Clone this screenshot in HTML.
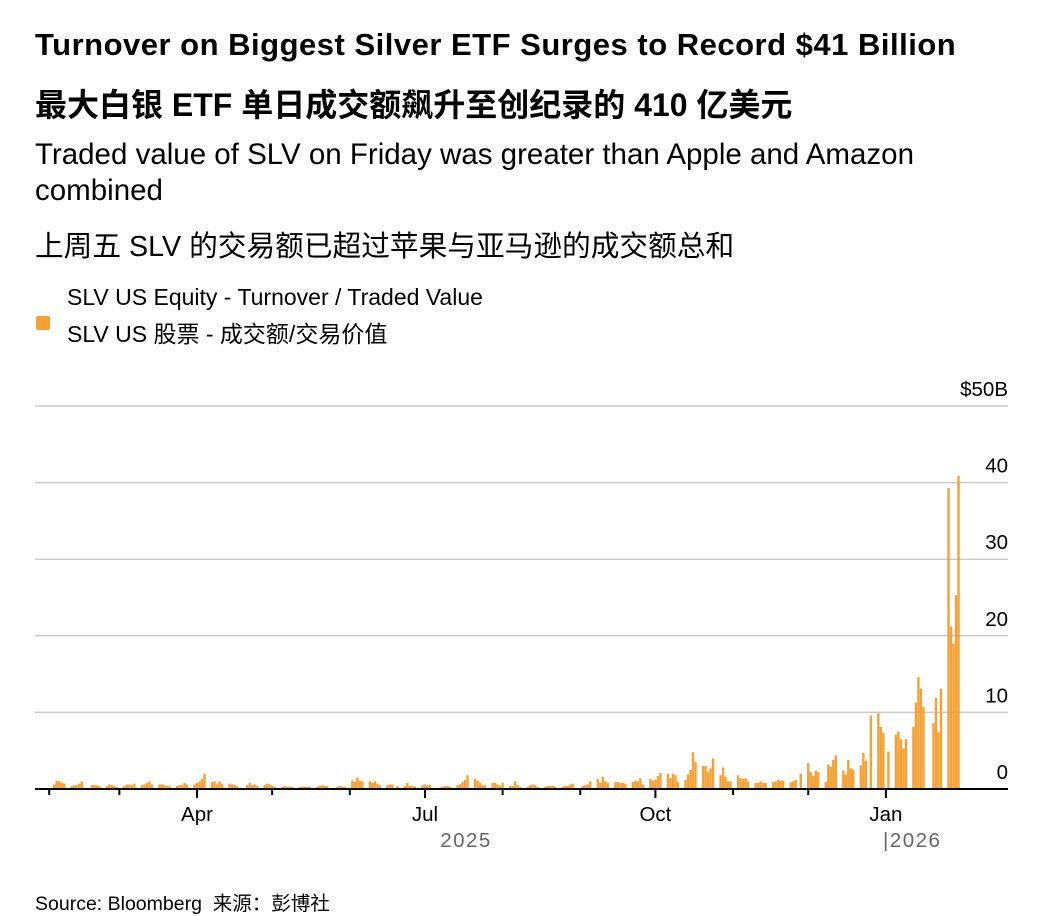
<!DOCTYPE html>
<html><head><meta charset="utf-8">
<style>
body{margin:0;background:#fff;width:1046px;height:916px;overflow:hidden;position:relative;font-family:"Liberation Sans","Noto Sans CJK SC",sans-serif;color:#000}
.t{position:absolute;left:35px;white-space:nowrap}
</style></head><body>
<div class="t" style="top:27px;font-size:31px;font-weight:bold;letter-spacing:0.5px">Turnover on Biggest Silver ETF Surges to Record $41 Billion</div>
<div class="t" style="top:80px;font-size:32px;font-weight:bold">最大白银 ETF 单日成交额飙升至创纪录的 410 亿美元</div>
<div class="t" style="top:137px;font-size:29.5px;line-height:36px;white-space:normal;width:960px">Traded value of SLV on Friday was greater than Apple and Amazon combined</div>
<div class="t" style="top:224px;font-size:28.7px">上周五 SLV 的交易额已超过苹果与亚马逊的成交额总和</div>
<div style="position:absolute;left:36px;top:316px;width:14px;height:14px;background:#f6a135;border-radius:2px"></div>
<div class="t" style="left:67px;top:279px;font-size:23px;line-height:37px">SLV US Equity - Turnover / Traded Value<br>SLV US 股票 - 成交额/交易价值</div>
<svg id="chart" width="1046" height="916" style="position:absolute;left:0;top:0"></svg>
<div class="t" style="top:887px;font-size:19.5px">Source: Bloomberg&nbsp; 来源：彭博社</div>
<script>
const weekStarts=["2025-02-03"];
const values=[
0.6,1.1,1.0,0.8,0.7, 0.4,0.5,0.5,0.7,1.0, 0.5,0.5,0.5,0.4, 0.4,0.6,0.5,0.4,0.3,
0.4,0.6,0.6,0.5,0.7, 0.5,0.6,0.8,1.0,0.6, 0.6,0.6,0.5,0.4,0.4, 0.4,0.5,0.5,0.8,0.6,
0.6,0.8,1.0,1.3,2.0, 0.9,1.0,0.6,1.0,0.7, 0.7,0.6,0.5,0.4, 0.5,0.8,0.5,0.6,0.4, 0.5,0.7,0.6,0.4,0.3,
0.3,0.4,0.3,0.3,0.3, 0.3,0.3,0.3,0.3,0.3, 0.3,0.4,0.5,0.4,0.4, 0.3,0.4,0.3,0.3,
1.1,0.9,1.5,1.1,1.0, 1.0,0.8,1.0,0.7,0.5, 0.5,0.6,0.6,0.4, 0.4,0.8,0.4,0.4,0.3,
0.5,0.6,0.5,0.5, 0.2,0.3,0.4,0.4,0.3, 0.5,0.6,0.9,1.2,1.8, 1.3,1.1,0.8,0.5,0.5, 0.8,0.8,0.6,0.4,0.8,
0.4,0.4,1.0,0.5,0.3, 0.3,0.5,0.6,0.5,0.3, 0.3,0.4,0.4,0.4,0.3, 0.3,0.4,0.4,0.6,0.7,
0.4,0.5,0.6,1.0, 1.3,0.8,1.6,1.0,0.8, 0.9,0.9,0.8,0.8,0.7, 0.9,1.1,1.0,1.4,0.6,
1.3,1.1,1.2,1.7,2.1, 2.0,1.4,2.0,1.8,0.9, 1.2,1.9,2.5,4.8,3.5, 3.0,3.0,2.2,2.7,4.0, 1.8,2.8,1.6,1.0,1.0,
1.8,1.4,1.3,1.4,1.0, 0.8,0.8,1.0,0.8,0.8, 0.9,1.0,1.2,1.1,1.1, 0.9,1.0,1.2,2.0,
3.4,2.2,1.7,2.4,2.2, 0.9,3.2,2.9,3.8,4.4, 2.4,1.9,3.8,2.7,2.5, 3.1,4.7,3.7,9.6,
9.9,8.1,7.3,4.9, 7.1,7.5,6.5,5.3,6.5, 8.1,11.3,14.6,13.1,10.7, 8.6,11.9,7.4,13.1,
39.3,21.2,19.0,25.3,40.9];
const holidays=["2025-02-17","2025-04-18","2025-05-26","2025-06-19","2025-07-04","2025-09-01","2025-11-27","2025-12-25","2026-01-01","2026-01-19"];
const yTicks=[0,10,20,30,40,50];
const yTickLabels=["0","10","20","30","40","$50B"];
const monthTicks=["2025-02-01","2025-03-01","2025-04-01","2025-05-01","2025-06-01","2025-07-01","2025-08-01","2025-09-01","2025-10-01","2025-11-01","2025-12-01","2026-01-01"];
const monthLabels={"2025-04-01":"Apr","2025-07-01":"Jul","2025-10-01":"Oct","2026-01-01":"Jan"};

const svg=document.getElementById('chart');const NS='http://www.w3.org/2000/svg';
const DAY=86400000,D0=Date.UTC(2025,3,1);
function x(ds){const t=Date.parse(ds+"T00:00:00Z");return 197+(t-D0)/DAY*2.505;}
function y(v){return 789-v*7.66;}
function mk(tag,a,p){const e=document.createElementNS(NS,tag);for(const k in a)e.setAttribute(k,a[k]);(p||svg).appendChild(e);return e;}
yTicks.forEach((v,i)=>{
 const l=mk('line',{x1:35,x2:1008,y1:y(v),y2:y(v),stroke:v===0?'#000':'#ccc','stroke-width':v===0?2:1.5});
 
 
 const t=mk('text',{x:1008,y:y(v)-10,'text-anchor':'end','font-size':20.5,fill:'#000'});
 t.textContent=yTickLabels[i];
 
 
});
const days=[];let t=Date.parse(weekStarts[0]+"T00:00:00Z");
while(days.length<values.length){const d=new Date(t);const wd=d.getUTCDay();const s=d.toISOString().slice(0,10);if(wd>0&&wd<6&&!holidays.includes(s))days.push(s);t+=DAY;}
values.forEach((v,i)=>{
 const r=mk('rect',{x:x(days[i])-1.2,y:y(v),width:2.4,height:789-y(v),fill:'#f6a135'});
 
 
});
mk('line',{x1:35,x2:1008,y1:789,y2:789,stroke:'#000','stroke-width':2});
monthTicks.forEach(m=>{
 const xx=x(m);
 const l=mk('line',{x1:xx,x2:xx,y1:789,y2:monthLabels[m]?798:795,stroke:'#000','stroke-width':2});
 
 
 if(monthLabels[m]){const tx=mk('text',{x:xx,y:821,'text-anchor':'middle','font-size':20.5});tx.textContent=monthLabels[m];
 
 }
});
const y1=mk('text',{x:466,y:847,'text-anchor':'middle','font-size':20.5,fill:'#666','letter-spacing':'1.5'});y1.textContent='2025';


const y2=mk('text',{x:883,y:847,'font-size':20.5,fill:'#666','letter-spacing':'1.5'});y2.textContent='|2026';


</script>
</body></html>
